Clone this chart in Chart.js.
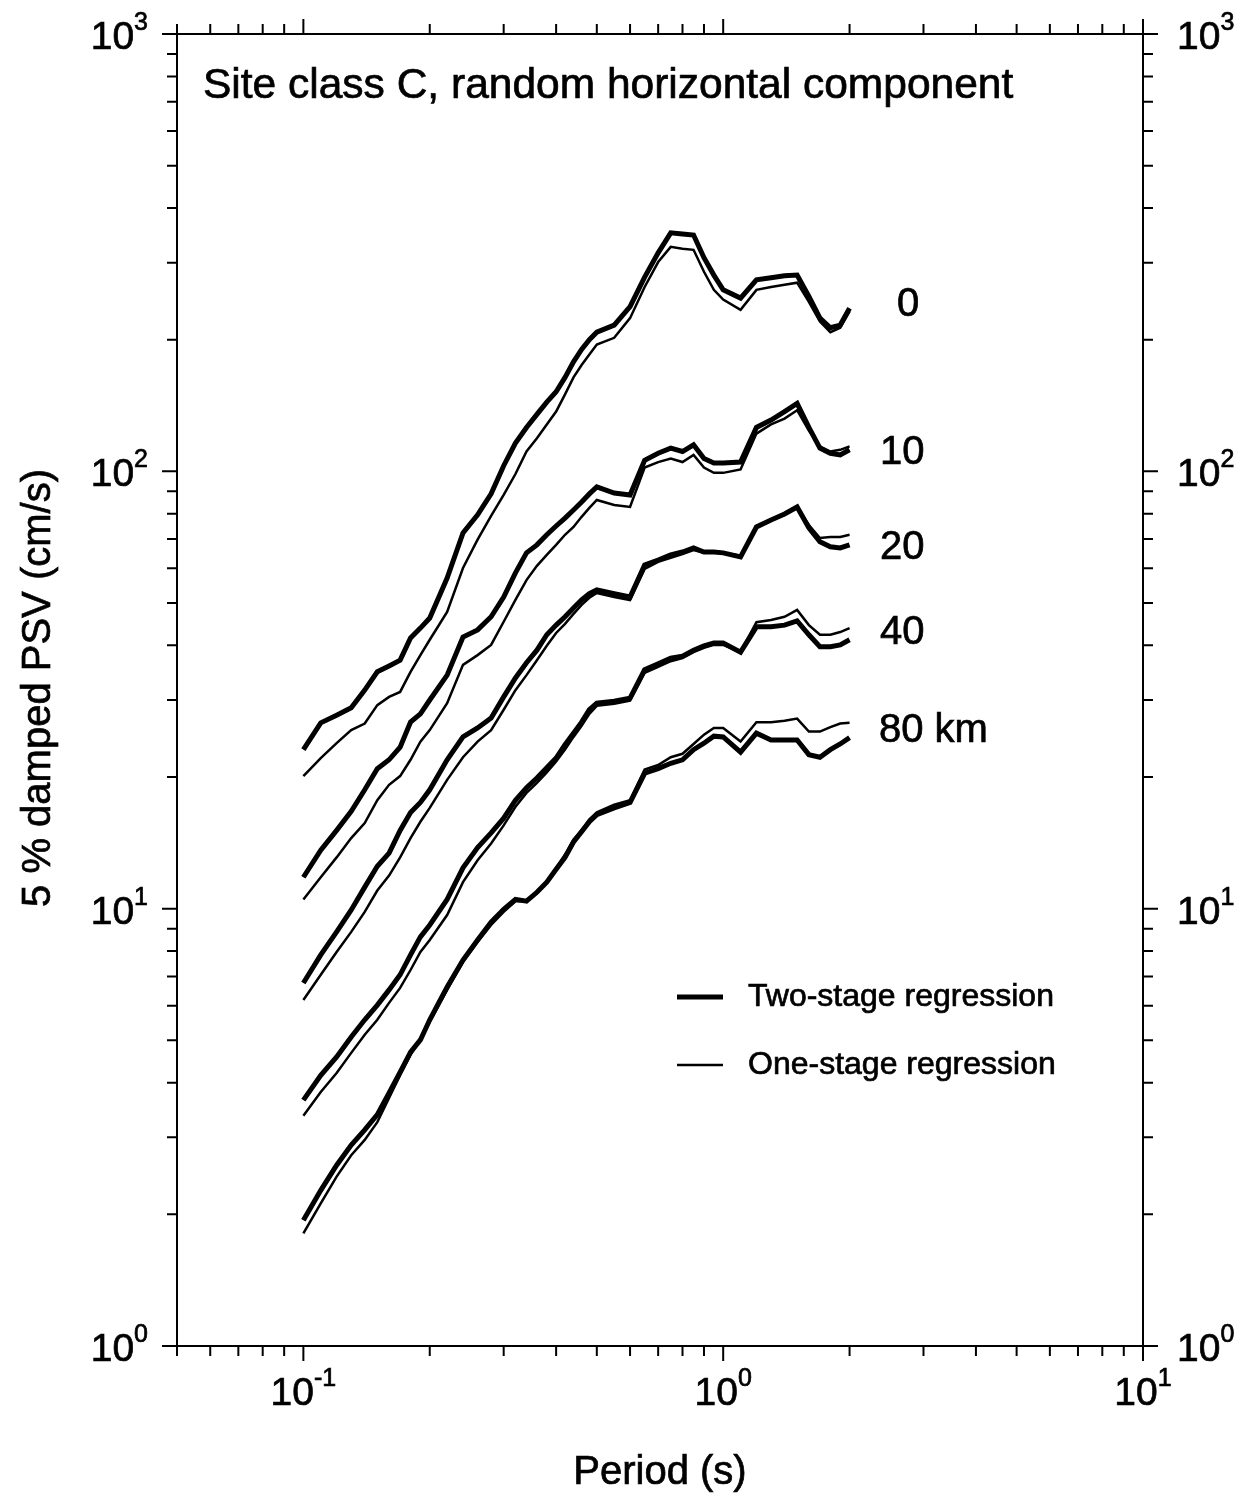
<!DOCTYPE html>
<html>
<head>
<meta charset="utf-8">
<title>Site class C, random horizontal component</title>
<script src="https://cdn.jsdelivr.net/npm/chart.js@4.4.1/dist/chart.umd.min.js"></script>
<style>
html, body { margin: 0; padding: 0; background: #fff; }
#wrap { width: 1248px; height: 1496px; }
</style>
</head>
<body>
<div id="wrap"><canvas id="grafico" width="1248" height="1496"></canvas></div>
<script>
// periods (s)
const periods = [0.10,0.11,0.12,0.13,0.14,0.15,0.16,0.17,0.18,0.19,0.20,0.22,0.24,0.26,0.28,0.30,0.32,0.34,0.36,0.38,0.40,0.42,0.44,0.46,0.48,0.50,0.55,0.60,0.65,0.70,0.75,0.80,0.85,0.90,0.95,1.00,1.10,1.20,1.30,1.40,1.50,1.60,1.70,1.80,1.90,2.00];

// 5% damped PSV (cm/s), two-stage (thick) and one-stage (thin) regression
const twoStage0 = [23.1,26.6,27.7,28.8,31.6,34.8,35.9,37.0,41.6,43.8,46.2,57.0,72.3,79.5,88.8,103,116,126,135,144,152,164,178,190,200,208,216,238,278,316,351,349,347,308,281,260,249,274,277,280,281,251,224,213,216,236];
const oneStage0 = [20.1,22.1,23.9,25.6,26.5,29.2,30.5,31.3,34.8,38.0,41.2,47.7,60.1,69.8,79.1,88.3,98.6,111,119,128,137,150,164,175,185,195,202,224,264,301,326,323,321,286,260,247,234,260,264,267,270,244,220,208,213,232];

const twoStage10 = [11.8,13.6,15.1,16.7,18.7,20.9,21.9,23.4,26.7,27.9,30.0,34.2,41.8,43.4,46.5,51.6,58.6,65.1,67.9,71.6,75.0,78.2,81.6,85.1,88.8,92.1,89.2,88.3,106,110,113,111,115,107,104.5,104.5,105,126,131,137,143,126,113,110,109,112];
const oneStage10 = [10.5,11.8,13.1,14.5,15.7,17.7,19.2,20.1,21.9,24.1,25.6,29.5,36.1,38.0,40.1,45.3,50.8,56.4,60.8,64.4,67.9,71.6,74.6,78.7,82.5,86.0,83.8,82.9,102,105,107,105,109,102,99.2,99.2,101,122,128,132,138,124,114,111,112,114];

const twoStage20 = [6.76,7.84,8.85,9.93,11.2,12.5,13.4,15.1,16.6,17.5,18.7,21.9,24.7,25.9,27.3,30.5,33.7,36.5,39.0,42.3,44.5,46.5,48.7,50.8,52.5,53.6,52.5,51.6,61.1,62.7,64.4,65.4,66.8,65.4,65.4,65.1,63.7,74.6,77.4,79.9,82.9,74.3,69.0,67.2,66.8,67.9];
const oneStage20 = [6.18,7.06,7.96,8.85,9.83,11.0,11.9,13.1,14.5,15.8,17.0,19.7,22.2,24.1,25.6,28.5,31.6,34.2,37.0,39.9,42.7,44.8,47.2,49.5,51.4,52.7,51.6,50.8,59.8,62.1,63.4,64.7,66.1,65.1,65.1,65.1,64.1,75.0,77.4,79.5,82.5,75.4,70.4,70.8,70.8,71.6];

const twoStage40 = [3.65,4.16,4.58,5.09,5.57,6.02,6.52,7.06,7.84,8.62,9.18,10.5,12.4,13.8,14.9,16.1,17.7,18.9,19.9,21.0,22.1,23.7,25.2,26.7,28.5,29.5,29.8,30.3,35.2,36.3,37.4,37.8,39.0,39.9,40.5,40.5,38.6,44.1,44.1,44.5,45.5,42.3,39.7,39.7,40.1,41.2];
const oneStage40 = [3.36,3.81,4.21,4.68,5.15,5.57,6.09,6.59,7.24,7.96,8.48,9.67,11.5,12.9,14.1,15.5,17.1,18.4,19.4,20.5,21.7,23.1,24.7,26.2,27.9,29.1,29.4,29.9,34.6,35.7,36.8,37.4,38.6,39.5,40.1,40.1,38.6,45.2,45.7,46.5,48.2,44.5,42.3,42.3,42.9,43.8];

const twoStage80 = [1.94,2.27,2.59,2.88,3.12,3.38,3.79,4.23,4.70,5.01,5.57,6.62,7.63,8.48,9.32,9.97,10.5,10.4,10.9,11.5,12.3,13.1,14.2,15.0,15.8,16.4,17.0,17.5,20.4,20.9,21.5,21.9,23.1,23.9,24.8,24.7,22.8,25.2,24.3,24.3,24.3,22.5,22.2,23.1,23.8,24.6];
const oneStage80 = [1.81,2.12,2.44,2.73,2.96,3.25,3.69,4.16,4.63,5.01,5.51,6.52,7.55,8.39,9.18,9.83,10.4,10.4,10.9,11.5,12.4,13.3,14.4,15.1,16.0,16.6,17.3,17.7,20.8,21.3,22.2,22.6,23.8,25.0,25.9,25.9,24.1,26.7,26.7,26.9,27.2,25.4,25.4,26.0,26.5,26.6];

// distance labels
const distLabels = ['0', '10', '20', '40', '80 km'];

// ticks
const xMajor = [0.1, 1, 10];
const xMinor = [0.05,0.06,0.07,0.08,0.09,0.2,0.3,0.4,0.5,0.6,0.7,0.8,0.9,2,3,4,5,6,7,8,9];
const xTickExp = ['-1', '0', '1'];
const yMajor = [1, 10, 100, 1000];
const yMinor = [2,3,4,5,6,7,8,9,20,30,40,50,60,70,80,90,200,300,400,500,600,700,800,900];
const yTickExp = ['0', '1', '2', '3'];

const fonte = '"Liberation Sans", Arial, Helvetica, sans-serif';

function serie(valores, grossa) {
  return {
    data: periods.map((p, i) => ({x: p, y: valores[i]})),
    borderColor: '#000',
    borderWidth: grossa ? 5 : 2.5,
    pointRadius: 0,
    fill: false,
    tension: 0
  };
}

// texto um pouco mais cheio, como no original
function texto(ctx, s, x, y) {
  ctx.fillText(s, x, y);
  ctx.strokeText(s, x, y);
}

function potencia(ctx, exp, x, y, align) {
  ctx.font = '39px ' + fonte;
  const wb = ctx.measureText('10').width;
  ctx.font = '25px ' + fonte;
  const we = ctx.measureText(exp).width;
  let x0 = x;
  if (align === 'right') x0 = x - wb - we;
  if (align === 'center') x0 = x - (wb + we) / 2;
  ctx.font = '39px ' + fonte;
  texto(ctx, '10', x0, y);
  ctx.font = '25px ' + fonte;
  texto(ctx, exp, x0 + wb, y - 19);
}

const moldura = {
  id: 'moldura',
  afterDraw(chart) {
    const ctx = chart.ctx;
    const a = chart.chartArea;
    const sx = chart.scales.x;
    const sy = chart.scales.y;

    ctx.save();
    ctx.strokeStyle = '#000';
    ctx.fillStyle = '#000';
    ctx.lineWidth = 2;
    ctx.strokeRect(a.left, a.top, a.right - a.left, a.bottom - a.top);

    ctx.beginPath();
    sx.ticks.forEach(t => {
      const px = sx.getPixelForValue(t.value);
      const len = xMajor.includes(t.value) ? 15 : 10;
      ctx.moveTo(px, a.bottom); ctx.lineTo(px, a.bottom + len);
      ctx.moveTo(px, a.top); ctx.lineTo(px, a.top - len);
    });
    sy.ticks.forEach(t => {
      const py = sy.getPixelForValue(t.value);
      const len = yMajor.includes(t.value) ? 15 : 10;
      ctx.moveTo(a.left, py); ctx.lineTo(a.left - len, py);
      ctx.moveTo(a.right, py); ctx.lineTo(a.right + len, py);
    });
    ctx.stroke();

    // legend samples
    ctx.beginPath();
    ctx.lineWidth = 5;
    ctx.moveTo(677, 997); ctx.lineTo(723, 997);
    ctx.stroke();
    ctx.beginPath();
    ctx.lineWidth = 2.5;
    ctx.moveTo(677, 1065); ctx.lineTo(723, 1065);
    ctx.stroke();

    ctx.lineWidth = 0.7;
    ctx.textAlign = 'left';
    ctx.textBaseline = 'alphabetic';
    xMajor.forEach((v, i) => {
      potencia(ctx, xTickExp[i], sx.getPixelForValue(v), a.bottom + 59, 'center');
    });
    yMajor.forEach((v, i) => {
      const py = sy.getPixelForValue(v);
      potencia(ctx, yTickExp[i], a.left - 29, py + 15, 'right');
      potencia(ctx, yTickExp[i], a.right + 34, py + 15, 'left');
    });

    // title inside the frame
    ctx.font = '42.5px ' + fonte;
    texto(ctx, 'Site class C, random horizontal component', 203, 98);

    // distance labels
    const rot = [[897, 316], [880, 464], [880, 559], [880, 644], [879, 742]];
    ctx.font = '40px ' + fonte;
    distLabels.forEach((s, i) => texto(ctx, s, rot[i][0], rot[i][1]));

    // legend text
    ctx.font = '32px ' + fonte;
    texto(ctx, 'Two-stage regression', 748, 1006);
    texto(ctx, 'One-stage regression', 748, 1074);

    // axis titles
    ctx.font = '40px ' + fonte;
    ctx.textAlign = 'center';
    texto(ctx, 'Period (s)', (a.left + a.right) / 2, 1484);
    ctx.translate(50, 688);
    ctx.rotate(-Math.PI / 2);
    texto(ctx, '5 % damped PSV (cm/s)', 0, 0);
    ctx.restore();
  }
};

document.addEventListener('DOMContentLoaded', () => {

const ctx = document.getElementById('grafico');

new Chart(ctx, {
  type: 'line',
  data: {
    datasets: [
      serie(oneStage0, false), serie(twoStage0, true),
      serie(oneStage10, false), serie(twoStage10, true),
      serie(oneStage20, false), serie(twoStage20, true),
      serie(oneStage40, false), serie(twoStage40, true),
      serie(oneStage80, false), serie(twoStage80, true)
    ]
  },
  options: {
    responsive: false,
    animation: false,
    devicePixelRatio: 1,
    events: [],
    layout: { padding: { left: 177, right: 105, top: 34, bottom: 150 } },
    plugins: { legend: { display: false }, tooltip: { enabled: false } },
    scales: {
      x: {
        type: 'logarithmic',
        min: 0.05,
        max: 10,
        grid: { display: false, drawTicks: false },
        border: { display: false },
        ticks: { display: false },
        afterBuildTicks: s => { s.ticks = xMinor.concat(xMajor).map(v => ({value: v})); },
        afterFit: s => { s.height = 0; }
      },
      y: {
        type: 'logarithmic',
        min: 1,
        max: 1000,
        grid: { display: false, drawTicks: false },
        border: { display: false },
        ticks: { display: false },
        afterBuildTicks: s => { s.ticks = yMinor.concat(yMajor).map(v => ({value: v})); },
        afterFit: s => { s.width = 0; }
      }
    }
  },
  plugins: [moldura]
});

});
</script>
</body>
</html>
